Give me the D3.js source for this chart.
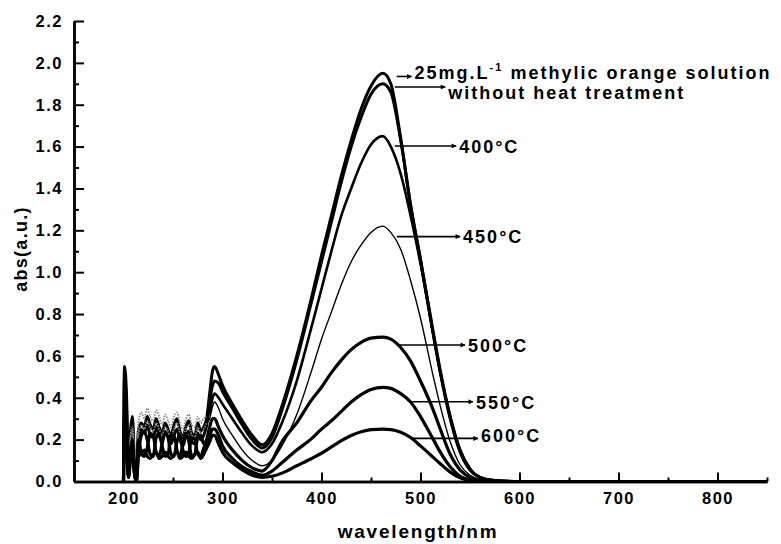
<!DOCTYPE html>
<html>
<head>
<meta charset="utf-8">
<script src="https://cdn.jsdelivr.net/npm/d3@7"></script>
<style>
  html, body { margin: 0; padding: 0; background: #fff; }
  svg { display: block; }
  text { font-family: "Liberation Sans", Arial, sans-serif; font-weight: bold; fill: #000; }
</style>
</head>
<body>
<svg id="chart" width="781" height="544"></svg>
<script>
// Wavelength grid (nm): dense through the noisy UV part, coarser elsewhere
const wavelength = [
  200, 201, 203, 205, 207, 209, 211, 213, 215, 218, 221, 224, 227, 230, 233, 236,
  239, 242, 245, 248, 251, 254, 257, 260, 263, 266, 269, 272, 275, 278, 281, 284,
  287, 290, 292, 296, 300, 310, 320, 330, 340, 350, 360, 375, 390, 400, 410, 420,
  430, 440, 450, 462, 470, 480, 490, 500, 513, 520, 530, 540, 550, 560, 575, 600,
  700, 850
];

// Absorbance (a.u.) of each sample on the grid above
const absSolution = [
  0.02, 0.55, 0.42, 0.06, 0.24, 0.31, 0.10, 0.03, 0.24, 0.28, 0.26, 0.31, 0.27, 0.25, 0.30, 0.26,
  0.23, 0.28, 0.25, 0.22, 0.27, 0.30, 0.24, 0.21, 0.26, 0.29, 0.23, 0.22, 0.28, 0.24, 0.26, 0.30,
  0.42, 0.53, 0.55, 0.51, 0.46, 0.37, 0.29, 0.22, 0.175, 0.23, 0.36, 0.60, 0.88, 1.08, 1.27, 1.46,
  1.63, 1.78, 1.89, 1.95, 1.90, 1.64, 1.32, 1.06, 0.70, 0.52, 0.30, 0.14, 0.055, 0.02, 0.005, 0,
  0, 0
];
const absUntreated = [
  0.02, 0.50, 0.36, 0.04, 0.20, 0.27, 0.06, 0.02, 0.20, 0.25, 0.23, 0.27, 0.22, 0.21, 0.26, 0.22,
  0.19, 0.24, 0.21, 0.18, 0.22, 0.25, 0.20, 0.17, 0.22, 0.24, 0.19, 0.18, 0.23, 0.20, 0.22, 0.27,
  0.38, 0.46, 0.48, 0.47, 0.43, 0.35, 0.27, 0.20, 0.16, 0.21, 0.34, 0.58, 0.86, 1.05, 1.24, 1.43,
  1.60, 1.74, 1.85, 1.90, 1.86, 1.63, 1.32, 1.06, 0.71, 0.53, 0.31, 0.15, 0.06, 0.02, 0.005, 0,
  0, 0
];
const abs400 = [
  0.00, 0.30, 0.25, 0.10, 0.22, 0.26, 0.15, 0.12, 0.28, 0.33, 0.30, 0.35, 0.31, 0.29, 0.34, 0.31,
  0.27, 0.32, 0.29, 0.26, 0.31, 0.33, 0.28, 0.25, 0.30, 0.32, 0.27, 0.26, 0.31, 0.28, 0.30, 0.31,
  0.33, 0.40, 0.42, 0.40, 0.37, 0.30, 0.23, 0.17, 0.14, 0.18, 0.28, 0.48, 0.74, 0.92, 1.10, 1.27,
  1.40, 1.52, 1.61, 1.65, 1.60, 1.47, 1.27, 1.04, 0.70, 0.52, 0.31, 0.15, 0.06, 0.02, 0.005, 0,
  0, 0
];
const abs450 = [
  0.00, 0.25, 0.22, 0.08, 0.20, 0.24, 0.14, 0.10, 0.22, 0.27, 0.25, 0.29, 0.26, 0.24, 0.28, 0.25,
  0.22, 0.26, 0.24, 0.21, 0.25, 0.28, 0.23, 0.21, 0.25, 0.27, 0.22, 0.21, 0.26, 0.23, 0.25, 0.28,
  0.30, 0.36, 0.38, 0.35, 0.30, 0.22, 0.15, 0.10, 0.075, 0.10, 0.17, 0.32, 0.53, 0.68, 0.81, 0.94,
  1.05, 1.13, 1.19, 1.22, 1.19, 1.11, 0.96, 0.78, 0.50, 0.36, 0.19, 0.08, 0.03, 0.01, 0, 0,
  0, 0
];
const abs500 = [
  0.00, 0.30, 0.22, 0.02, 0.15, 0.20, 0.05, 0.00, 0.12, 0.22, 0.24, 0.20, 0.13, 0.12, 0.21, 0.23,
  0.17, 0.12, 0.13, 0.22, 0.22, 0.15, 0.12, 0.18, 0.23, 0.19, 0.12, 0.13, 0.21, 0.22, 0.18, 0.20,
  0.26, 0.30, 0.30, 0.26, 0.22, 0.15, 0.10, 0.065, 0.05, 0.10, 0.19, 0.28, 0.39, 0.45, 0.52, 0.58,
  0.63, 0.665, 0.685, 0.69, 0.68, 0.64, 0.575, 0.48, 0.34, 0.25, 0.13, 0.055, 0.02, 0.005, 0, 0,
  0, 0
];
const abs550 = [
  0.00, 0.28, 0.20, 0.02, 0.12, 0.18, 0.04, 0.00, 0.20, 0.14, 0.12, 0.16, 0.23, 0.22, 0.14, 0.12,
  0.18, 0.23, 0.21, 0.13, 0.12, 0.19, 0.22, 0.15, 0.12, 0.14, 0.21, 0.20, 0.13, 0.12, 0.16, 0.19,
  0.22, 0.25, 0.25, 0.22, 0.17, 0.11, 0.07, 0.045, 0.03, 0.05, 0.09, 0.15, 0.205, 0.25, 0.29, 0.335,
  0.38, 0.415, 0.44, 0.45, 0.445, 0.42, 0.38, 0.31, 0.20, 0.14, 0.07, 0.025, 0.008, 0, 0, 0,
  0, 0
];
const abs600 = [
  0.00, 0.25, 0.18, 0.02, 0.10, 0.16, 0.04, 0.00, 0.12, 0.13, 0.15, 0.12, 0.11, 0.13, 0.14, 0.11,
  0.12, 0.14, 0.12, 0.11, 0.13, 0.14, 0.11, 0.12, 0.14, 0.12, 0.11, 0.13, 0.14, 0.11, 0.13, 0.16,
  0.19, 0.22, 0.22, 0.18, 0.14, 0.09, 0.055, 0.03, 0.02, 0.025, 0.04, 0.075, 0.11, 0.135, 0.165, 0.195,
  0.22, 0.238, 0.248, 0.25, 0.248, 0.235, 0.21, 0.17, 0.115, 0.085, 0.045, 0.018, 0.005, 0, 0, 0,
  0, 0
];

// Series labels and the callout arrows that point from each curve to its label
const seriesLabels = [
  "25mg.L-1 methylic orange solution", "without heat treatment",
  "400°C", "450°C", "500°C", "550°C", "600°C"
];
// arrow level (a.u.), arrow start / end wavelength (nm)
const calloutLevel = [1.935, 1.885, 1.603, 1.17, 0.652, 0.381, 0.206];
const calloutFrom  = [476, 474, 474, 476, 479, 489, 492];
const calloutTo    = [491, 525, 536, 540, 545, 553, 558];

const xTicks = [200, 300, 400, 500, 600, 700, 800];
const xMinorTicks = [150, 250, 350, 450, 550, 650, 750, 850];
const yTicks = [0, 0.2, 0.4, 0.6, 0.8, 1.0, 1.2, 1.4, 1.6, 1.8, 2.0, 2.2];
const yMinorTicks = [0.1, 0.3, 0.5, 0.7, 0.9, 1.1, 1.3, 1.5, 1.7, 1.9, 2.1];

const series = [absSolution, absUntreated, abs400, abs450, abs500, abs550, abs600];
const strokeW = [3, 3, 2.6, 1.4, 3.2, 3.2, 3.2];
// the 400 and 450 °C scans are faint and speckled below 285 nm
const faintUV = [false, false, true, true, false, false, false];
const uvEnd = 284;
// baseline shift of each label relative to its arrow
const labelDy = [2.5, 12.5, 7, 6, 7, 7, 4];

const svg = d3.select("#chart");
const x = d3.scaleLinear().domain([150, 850]).range([74, 767]);
const y = d3.scaleLinear().domain([0, 2.2]).range([481.5, 21]);

const line = d3.line()
  .x(d => x(d[0]))
  .y(d => y(d[1]))
  .curve(d3.curveMonotoneX);

// spectra
const gLines = svg.append("g");
series.forEach((vals, i) => {
  const pts = wavelength.map((w, k) => [w, vals[k]]);
  if (faintUV[i]) {
    gLines.append("path")
      .datum(pts.filter(p => p[0] <= uvEnd))
      .attr("d", line)
      .attr("fill", "none")
      .attr("stroke", "#8a8a8a")
      .attr("stroke-width", 1.8)
      .attr("stroke-dasharray", "1.5,1.2");
    gLines.append("path")
      .datum(pts.filter(p => p[0] >= uvEnd))
      .attr("d", line)
      .attr("fill", "none")
      .attr("stroke", "#000")
      .attr("stroke-width", strokeW[i])
      .attr("stroke-linejoin", "round");
  } else {
    gLines.append("path")
      .datum(pts)
      .attr("d", line)
      .attr("fill", "none")
      .attr("stroke", "#000")
      .attr("stroke-width", strokeW[i])
      .attr("stroke-linejoin", "round");
  }
});

// axes, ticks drawn on the inside
const axisStyle = g => {
  g.select(".domain").attr("stroke", "#000").attr("stroke-width", 2.5);
  g.selectAll(".tick line").attr("stroke", "#000").attr("stroke-width", 2);
  g.selectAll("text")
    .style("font-size", "16.5px")
    .style("letter-spacing", "1.5px")
    .attr("fill", "#000");
};

svg.append("g")
  .attr("transform", `translate(0,${y(0)})`)
  .call(d3.axisBottom(x).tickValues(xMinorTicks).tickSize(-4).tickSizeOuter(0).tickFormat(""))
  .call(axisStyle);
svg.append("g")
  .attr("transform", `translate(0,${y(0)})`)
  .call(d3.axisBottom(x).tickValues(xTicks).tickSize(-9).tickSizeOuter(0).tickPadding(11)
    .tickFormat(d3.format("d")))
  .call(axisStyle);

svg.append("g")
  .attr("transform", `translate(${x(150)},0)`)
  .call(d3.axisLeft(y).tickValues(yMinorTicks).tickSize(-5).tickSizeOuter(0).tickFormat(""))
  .call(axisStyle);
svg.append("g")
  .attr("transform", `translate(${x(150)},0)`)
  .call(d3.axisLeft(y).tickValues(yTicks).tickSize(-10).tickSizeOuter(0).tickPadding(11)
    .tickFormat(d3.format(".1f")))
  .call(axisStyle);

// axis titles
svg.append("text")
  .attr("x", 418).attr("y", 538)
  .attr("text-anchor", "middle")
  .style("font-size", "19px").style("letter-spacing", "1.8px")
  .text("wavelength/nm");
svg.append("text")
  .attr("transform", "translate(27,249) rotate(-90)")
  .attr("text-anchor", "middle")
  .style("font-size", "18px").style("letter-spacing", "1.3px")
  .text("abs(a.u.)");

// callouts
const defs = svg.append("defs");
defs.append("marker")
  .attr("id", "head")
  .attr("viewBox", "0 0 10 10")
  .attr("refX", 9).attr("refY", 5)
  .attr("markerWidth", 7).attr("markerHeight", 5)
  .attr("markerUnits", "userSpaceOnUse")
  .attr("orient", "auto")
  .append("path").attr("d", "M0,0 L10,5 L0,10 Z").attr("fill", "#000");

const gCall = svg.append("g");
seriesLabels.forEach((lab, i) => {
  const yy = y(calloutLevel[i]);
  gCall.append("line")
    .attr("x1", x(calloutFrom[i])).attr("x2", x(calloutTo[i]))
    .attr("y1", yy).attr("y2", yy)
    .attr("stroke", "#000").attr("stroke-width", 1.6)
    .attr("marker-end", "url(#head)");
  const t = gCall.append("text")
    .attr("x", x(calloutTo[i]) + 3)
    .attr("y", yy + labelDy[i])
    .style("font-size", "18px")
    .style("letter-spacing", "2px");
  if (lab.indexOf("L-1") >= 0) {
    const parts = lab.split("L-1");
    t.append("tspan").text(parts[0] + "L");
    t.append("tspan").attr("dy", -8).style("font-size", "11px").text("-1");
    t.append("tspan").attr("dy", 8).text(parts[1]);
  } else {
    t.text(lab);
  }
});
</script>
</body>
</html>
